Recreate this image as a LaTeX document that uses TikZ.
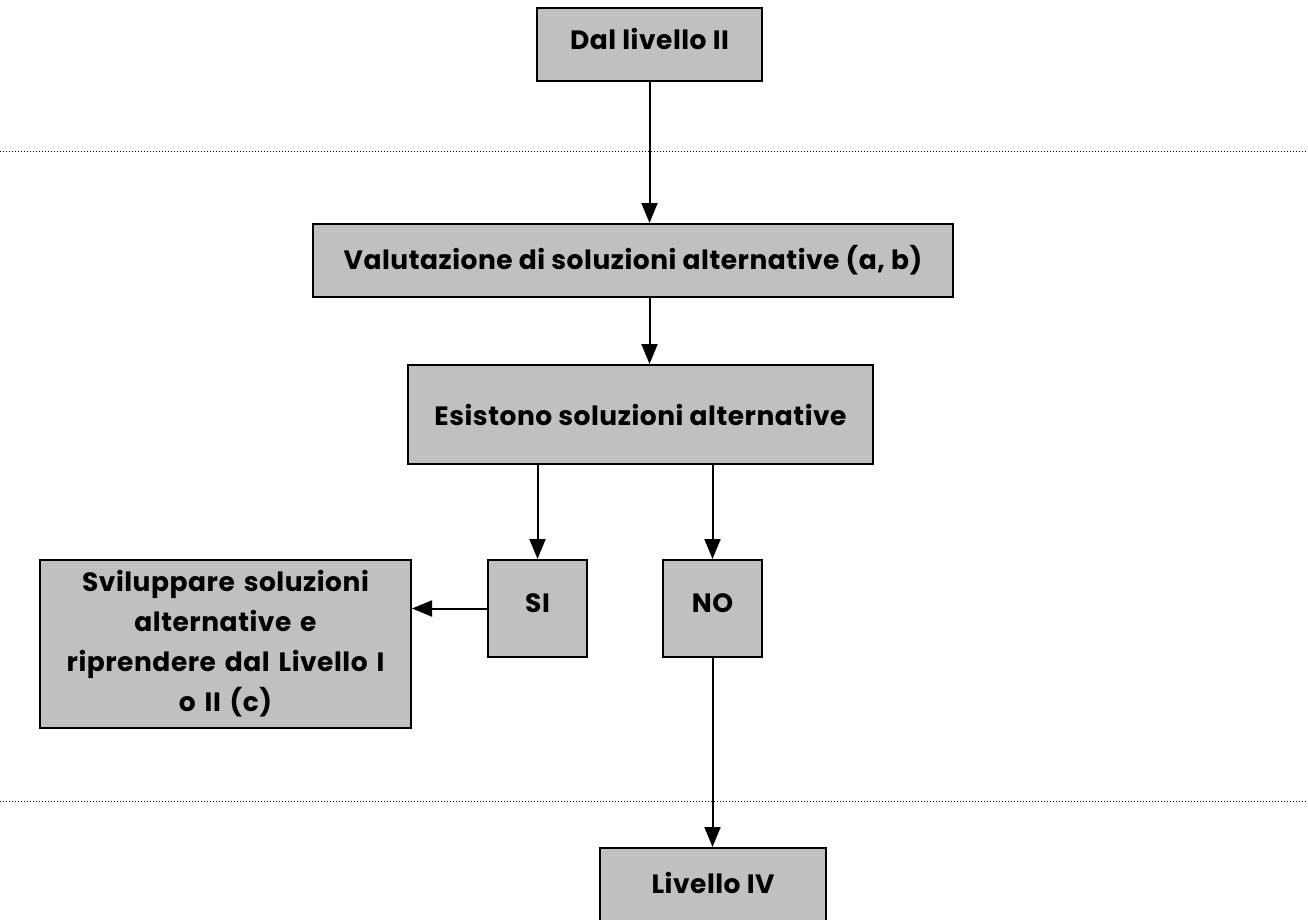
\documentclass[tikz,border=0pt]{standalone}
\usepackage{fontspec}
\setmainfont{Poppins}[LetterSpace=2]
\usepackage{tikz}
\usetikzlibrary{positioning, arrows.meta}
\usepackage{xcolor}
\definecolor{boxgray}{HTML}{C0C0C0}

\begin{document}
\begin{tikzpicture}[
  x=1pt, y=-1pt,
  every node/.style={rectangle, draw, line width=2pt, fill=boxgray, inner sep=0pt,
    font=\fontsize{26.5}{40}\selectfont\bfseries, align=center},
  arrow/.style={line width=2pt, -{Triangle[width=16pt, length=20pt]}},
  level line/.style={line width=1pt, dotted}
]
\useasboundingbox (0,0) rectangle (1308,920);
\draw[level line] (0,152) -- (1308,152);
\draw[level line] (0,801) -- (1308,801);

\node[minimum width=225, minimum height=73, text depth=12pt] (dal) at (649.5,44.5) {Dal livello II};
\node[minimum width=640, minimum height=73] (val) at (633,260.5) {Valutazione di soluzioni alternative (a, b)};
\node[minimum width=465, minimum height=99] (esist) at (640.5,414.5) {Esistono soluzioni alternative};
\node[minimum width=99, minimum height=97, text depth=10pt] (si) at (537.5,608.5) {SI};
\node[minimum width=99, minimum height=97, text depth=10pt] (no) at (712.5,608.5) {NO};
\node[minimum width=371, minimum height=168, text width=370] (svil) at (225.5,644)
  {Sviluppare soluzioni\\alternative e\\riprendere dal Livello I\\o II (c)};
\node[minimum width=226, minimum height=80, text depth=10pt] (liv) at (713,888) {Livello IV};

\draw[arrow] (dal) -- (dal |- val.north);
\draw[arrow] (val.south -| dal) -- (dal |- esist.north);
\draw[arrow] (si |- esist.south) -- (si);
\draw[arrow] (no |- esist.south) -- (no);
\draw[arrow] (si.west) -- (si.west -| svil.east);
\draw[arrow] (no) -- (no |- liv.north);
\end{tikzpicture}
\end{document}
